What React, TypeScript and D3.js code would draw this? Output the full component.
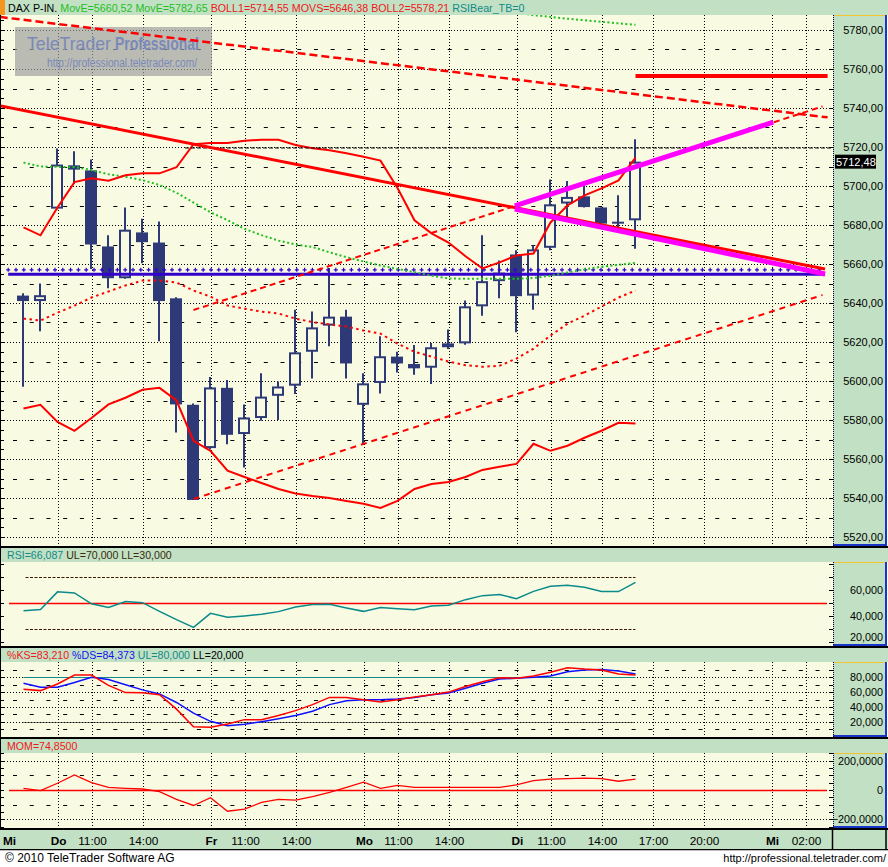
import React from 'react';
import * as d3 from 'd3';

// ---------------- data (hourly candles, Mi 16:00 .. Di 16:00) ----------------
const candleOpen = [5643.8, 5641, 5688.4, 5710.6, 5708, 5669, 5652.7, 5676.2, 5671, 5642.4, 5587.8, 5565.6, 5596.5, 5572.8, 5581, 5592.4, 5597.6, 5615, 5628.4, 5633, 5587.8, 5599, 5612.5, 5608.7, 5606.8, 5617.3, 5619.3, 5638.3, 5651.2, 5664.9, 5643.8, 5668.3, 5691, 5694.7, 5689, 5681.7, 5682.4];
const candleHigh = [5645, 5650, 5719.2, 5717.8, 5713.6, 5674.7, 5689, 5683.2, 5681.8, 5643, 5588.5, 5602, 5600.5, 5588, 5604, 5599.8, 5636.5, 5635.6, 5658, 5636.5, 5604, 5623, 5615, 5618.4, 5619.5, 5626.4, 5641.3, 5674.7, 5661.8, 5667, 5669.5, 5703.3, 5702.6, 5700.9, 5689, 5695.2, 5724];
const candleLow = [5597, 5625.5, 5688, 5701, 5657.5, 5647.6, 5652.5, 5660.4, 5620.4, 5573.6, 5539, 5565, 5567.6, 5555.6, 5579.6, 5580, 5593.3, 5601.3, 5617.8, 5601.3, 5567.3, 5593.6, 5604.4, 5603.2, 5598.5, 5616.4, 5618.6, 5633.5, 5642.4, 5625, 5636.5, 5667, 5684, 5689, 5679.3, 5677.2, 5667.8];
const candleClose = [5641, 5644, 5711, 5708.4, 5670, 5652.7, 5677.6, 5671.2, 5641, 5588, 5539, 5596.7, 5572.4, 5581.3, 5592, 5597.2, 5614.7, 5627.5, 5633, 5609, 5598.8, 5612.7, 5609, 5606.5, 5617.3, 5619.3, 5638.3, 5651.2, 5655.6, 5643.5, 5667.5, 5690.6, 5694.4, 5689.2, 5680.7, 5681.3, 5712.48];

const bollUpper = [5678.8, 5674.7, 5689, 5702, 5704, 5702.7, 5705.5, 5706.5, 5706.5, 5709.6, 5721.4, 5722, 5722, 5723.2, 5723.7, 5723.7, 5721, 5719.4, 5718.3, 5716.8, 5715, 5713, 5699, 5682.4, 5675.7, 5671, 5664, 5657.7, 5660.8, 5664.4, 5665.4, 5681.3, 5690, 5695.2, 5698.8, 5702.9, 5714.55];
const bollMiddle = [5632, 5631, 5635, 5638.7, 5642.8, 5645.9, 5649, 5651.5, 5651.5, 5650.5, 5646.4, 5643.3, 5638.7, 5637.1, 5635.6, 5634.6, 5632, 5630.2, 5629, 5627.9, 5625.9, 5624.3, 5619.2, 5615, 5612.5, 5610, 5608.1, 5607.3, 5607.8, 5611.5, 5616.6, 5623.3, 5629.4, 5633.5, 5638.2, 5642.8, 5646.38];
const bollLower = [5585.9, 5587.8, 5579, 5574.4, 5581, 5588, 5591.4, 5595.5, 5596.5, 5590, 5569.3, 5564.2, 5554, 5550.8, 5547.7, 5544.6, 5542.3, 5541, 5540, 5538.5, 5537, 5534.9, 5538.5, 5544.6, 5547.2, 5548.2, 5550.8, 5554.4, 5556, 5557.5, 5567.8, 5564.2, 5566.8, 5570.9, 5574.5, 5578.6, 5578.21];
const movE1 = [5712, 5710, 5709.8, 5709.8, 5708.2, 5706, 5704.7, 5703, 5700.5, 5696.5, 5691.5, 5686.5, 5682.5, 5678, 5674.8, 5672, 5670, 5668.7, 5666, 5663.5, 5661.3, 5659.2, 5657.5, 5655.8, 5654, 5652.6, 5652.4, 5652.4, 5652.4, 5652.4, 5652.8, 5654, 5655.6, 5657.3, 5658.6, 5659.6, 5660.52];
const movE2: (number | null)[] = [null, null, null, null, null, null, null, null, null, null, null, null, null, null, null, null, null, null, null, null, null, null, null, null, null, null, null, 5792, 5790.5, 5789, 5787.6, 5786.7, 5785.8, 5785, 5784.2, 5783.4, 5782.65];

const rsiValues = [44.3, 45.3, 58.8, 58, 49.6, 46.8, 51.4, 50.5, 43.8, 37.4, 31.5, 42.3, 39.2, 40.3, 41.5, 43.6, 47.2, 49, 49.2, 46.4, 43.8, 46.7, 45.9, 45.1, 48, 48.5, 52.8, 55.9, 56.7, 53.6, 59.2, 63.1, 63.8, 62.3, 59, 59, 66.087];
const ksValues = [63.8, 62, 71, 83, 83, 69, 59.3, 59.2, 56.5, 37, 13.2, 12.5, 16.8, 22.8, 22.5, 28.5, 35, 43.1, 52.8, 52.8, 49.7, 46.7, 49.7, 53.3, 56.4, 60, 67.5, 74.1, 79.5, 78.7, 81.7, 86.7, 92.8, 91.1, 90, 84.5, 83.21];
const dsValues = [71.9, 66.5, 66.5, 73, 80, 77, 70, 63, 57.5, 46, 31.5, 20.5, 14.5, 16.5, 20, 24, 28.5, 34.1, 43.1, 48.4, 49.7, 49.7, 50.7, 52.8, 56.4, 58.7, 65.3, 72, 77.7, 78.7, 80, 81.7, 87.5, 89.7, 90.6, 88.4, 84.373];
const momValues = [11.5, -4.6, 46, 103.4, 50.6, 18.4, 11.5, 6.9, -11.5, -64.4, -105.7, -52.9, -144.8, -131, -85, -64.4, -69, -46, -16, 18.4, 52.9, 11.5, 32.2, 18.4, 18.4, 18.4, 18.4, 18.4, 18.4, 34.5, 64.4, 73.6, 78.2, 80.5, 78.2, 59.8, 74.85];

// drawn studies: [candle index, price]
const resistDashed = [[-1.4, 5786.7], [47.3, 5735.2]];
const channelUpper = [[10, 5636.4], [47, 5740.8]];
const channelLower = [[10, 5539.5], [47, 5644.1]];
const trendDown = [[-1.4, 5741.2], [47.15, 5657.4]];
const wedgeUpper = [[28.9, 5689.8], [44.1, 5732.7]];
const wedgeLower = [[28.9, 5688.2], [47.15, 5654.9]];
const levelHigh = [[36, 5756.4], [47.3, 5756.4]];
const levelBlue = [[-0.9, 5654.7], [47.15, 5654.7]];
const levelBluePlus = 5657;
const levelDashed = [[9.5, 5719.5], [47.6, 5719.5]];

// axes
const timeTickIndex = [-7, 2, 4, 7, 11, 13, 16, 20, 22, 25, 29, 31, 34, 37, 40, 44, 46];
const timeTickLabel = ['Mi', 'Do', '11:00', '14:00', 'Fr', '11:00', '14:00', 'Mo', '11:00', '14:00', 'Di', '11:00', '14:00', '17:00', '20:00', 'Mi', '02:00'];
const timeTickBold = [true, true, false, false, true, false, false, true, false, false, true, false, false, false, false, true, false];
const priceTicks = [5780, 5760, 5740, 5720, 5700, 5680, 5660, 5640, 5620, 5600, 5580, 5560, 5540, 5520];
const rsiTicks = [60, 40, 20];
const ksTicks = [80, 60, 40, 20];
const momTicks = [200, 0, -200];
const lastPrice = 5712.48;

// ---------------- layout ----------------
const W = 888, H = 867;
const PR = 832, AXL = 833, AXR = 886;
const FONT = "'Liberation Sans', Arial, Helvetica, sans-serif";
const BG = '#f8fbe2';
const HDR = '#c2e1c4';
const NAVY = '#2e3a78';
const RED = '#ff0000';
const MAIN = { top: 15, bottom: 546 };
const RSI = { h: 548, top: 562, bottom: 646 };
const KS = { h: 648, top: 662, bottom: 737 };
const MOM = { h: 739, top: 753, bottom: 828 };

export default function App() {
  const x = d3.scaleLinear().domain([0, 46]).range([23.5, 23.5 + 17 * 46]);
  const gx = (i: number) => Math.floor(x(i)) + 1.5;
  const yM = d3.scaleLinear().domain([5520, 5780]).range([537, 30]);
  const yR = d3.scaleLinear().domain([30, 70]).range([629.3, 577.3]);
  const yK = d3.scaleLinear().domain([0, 100]).range([736.5, 662.5]);
  const yO = d3.scaleLinear().domain([-200, 200]).range([819.3, 760.7]);
  const loc = d3.formatLocale({ decimal: ',', thousands: '.', grouping: [3], currency: ['', ''] });
  const f2 = loc.format('.2f'), f3 = loc.format('.3f'), f4 = loc.format('.4f');
  const px = (v: number) => Math.round(v) + 0.5;

  const series = (ys: any, arr: (number | null)[]) =>
    d3.line<number | null>().defined((d) => d != null).x((_, i) => x(i)).y((d) => ys(d as number))(arr) || '';
  const seg = (pts: number[][]) =>
    d3.line<number[]>().x((d) => x(d[0])).y((d) => yM(d[1]))(pts) || '';

  const gridIdx = timeTickIndex.filter((i) => gx(i) > 2 && gx(i) < PR);

  const vGrid = (top: number, bottom: number) =>
    gridIdx.map((i, k) => (
      <line key={'vg' + k} x1={gx(i)} x2={gx(i)} y1={top} y2={bottom} stroke="#000" strokeDasharray="1,2" />
    ));
  const hRow = (y: number, dotted: boolean, key: string) =>
    dotted ? (
      <line key={key} x1={1} x2={829} y1={px(y)} y2={px(y)} stroke="#000" strokeDasharray="1,2" />
    ) : (
      <line key={key} x1={13} x2={829} y1={px(y)} y2={px(y)} stroke="#000" strokeDasharray="4,12.72" />
    );

  const axisBox = (top: number, bottom: number, key: string) => (
    <g key={key}>
      <rect x={AXL} y={top} width={AXR - AXL + 1} height={bottom - top} fill={HDR} />
      <line x1={AXL} x2={AXR + 1} y1={top + 0.5} y2={top + 0.5} stroke="#f2c530" />
      <line x1={AXR} x2={AXR} y1={top} y2={bottom} stroke="#1a34c8" strokeWidth={2} />
      <line x1={AXL} x2={AXR + 1} y1={bottom - 1} y2={bottom - 1} stroke="#1a34c8" strokeWidth={2} />
      <line x1={AXL + 0.5} x2={AXL + 0.5} y1={top} y2={bottom} stroke="#000" strokeDasharray="1,1" />
    </g>
  );
  const ticks = (ys: any, vals: number[], key: string) =>
    vals.map((v, k) => (
      <g key={key + k}>
        <line x1={829} x2={833} y1={px(ys(v))} y2={px(ys(v))} stroke="#000" />
        <line x1={0} x2={4} y1={px(ys(v))} y2={px(ys(v))} stroke="#000" />
      </g>
    ));

  const mainMinor = d3.range(5515, 5790, 5).filter((v) => yM(v) > MAIN.top && yM(v) < MAIN.bottom);
  const mainRows = d3.range(5520, 5781, 10);

  // plus markers along the blue level
  const bx0 = x(levelBlue[0][0]), bx1 = x(levelBlue[1][0]);
  const plusX = d3.range(bx0, bx1, 7.8);

  const header = (y: number, h: number, key: string) => (
    <rect key={key} x={0} y={y} width={W} height={h} fill={HDR} />
  );
  const sep = (y: number, key: string) => <rect key={key} x={0} y={y} width={W} height={2} fill="#000" />;

  return (
    <svg width={W} height={H} viewBox={`0 0 ${W} ${H}`} style={{ display: 'block', position: 'absolute', left: 0, top: 0, background: '#fff' }} fontFamily={FONT}>
      <defs>
        <clipPath id="clipMain"><rect x={1} y={MAIN.top} width={PR - 1} height={MAIN.bottom - MAIN.top} /></clipPath>
        <clipPath id="clipRsi"><rect x={1} y={RSI.top} width={PR - 1} height={RSI.bottom - RSI.top} /></clipPath>
        <clipPath id="clipKs"><rect x={1} y={KS.top} width={PR - 1} height={KS.bottom - KS.top} /></clipPath>
        <clipPath id="clipMom"><rect x={1} y={MOM.top} width={PR - 1} height={MOM.bottom - MOM.top} /></clipPath>
      </defs>

      {/* ---------- main panel ---------- */}
      {header(0, MAIN.top, 'h0')}
      <rect x={0} y={0} width={5} height={MAIN.top} fill="#f7941d" />
      <text x={8} y={12} fontSize={10.7} style={{ whiteSpace: 'pre' }}>
        <tspan fill="#000">DAX P-IN. </tspan>
        <tspan fill="#1fbf1f">MovE={f2(movE1[movE1.length - 1])} </tspan>
        <tspan fill="#1fbf1f">MovE={f2(movE2[movE2.length - 1] as number)} </tspan>
        <tspan fill="#f01818">BOLL1={f2(bollUpper[bollUpper.length - 1])} </tspan>
        <tspan fill="#f01818">MOVS={f2(bollMiddle[bollMiddle.length - 1])} </tspan>
        <tspan fill="#f01818">BOLL2={f2(bollLower[bollLower.length - 1])} </tspan>
        <tspan fill="#108a8a">RSIBear_TB=0</tspan>
      </text>
      <rect x={0} y={MAIN.top} width={PR} height={MAIN.bottom - MAIN.top} fill={BG} />
      <g clipPath="url(#clipMain)">
        {mainRows.map((v, k) => hRow(yM(v), v % 20 === 0, 'mr' + k))}
        {vGrid(MAIN.top, MAIN.bottom)}
        {/* watermark */}
        <rect x={15} y={27} width={197} height={49} fill="#9c9c9c" opacity={0.68} />
        <text x={27} y={50} fontSize={19} fill="#7b89b8" textLength={84} lengthAdjust="spacingAndGlyphs">TeleTrader</text>
        <text x={115} y={50} fontSize={19} fontWeight="bold" fill="#7b89b8" textLength={84} lengthAdjust="spacingAndGlyphs">Professional</text>
        <text x={47} y={67} fontSize={12} fill="#7b89b8" textLength={150} lengthAdjust="spacingAndGlyphs">http://professional.teletrader.com/</text>

        {/* candles */}
        {candleOpen.map((o, i) => {
          const c = candleClose[i];
          const cx = Math.floor(x(i));
          const top = yM(Math.max(o, c));
          const bot = yM(Math.min(o, c));
          const up = c >= o;
          return (
            <g key={'c' + i}>
              <line x1={cx} x2={cx} y1={yM(candleHigh[i])} y2={yM(candleLow[i])} stroke={NAVY} strokeWidth={2} />
              {up ? (
                <rect x={cx - 5} y={top + 1} width={10} height={Math.max(0.5, bot - top - 2)} fill={BG} stroke={NAVY} strokeWidth={2} />
              ) : (
                <rect x={cx - 6} y={top} width={12} height={Math.max(2, bot - top)} fill={NAVY} />
              )}
            </g>
          );
        })}

        {/* horizontal blue level */}
        <path d={seg(levelBlue)} stroke="#3300cc" strokeWidth={3} fill="none" />
        {plusX.map((bx, k) => (
          <path key={'p' + k} d={`M${bx - 2},${yM(levelBluePlus)}h4M${bx},${yM(levelBluePlus) - 2}v4`} stroke="#3300cc" strokeWidth={1.2} />
        ))}

        {/* moving averages and bands */}
        <path d={series(yM, movE2)} stroke="#1fc01f" strokeWidth={2} fill="none" strokeDasharray="2,2.5" />
        <path d={series(yM, movE1)} stroke="#1fc01f" strokeWidth={2} fill="none" strokeDasharray="2,2.5" />
        <path d={series(yM, bollMiddle)} stroke={RED} strokeWidth={2} fill="none" strokeDasharray="2.5,3.5" />
        <path d={series(yM, bollUpper)} stroke={RED} strokeWidth={2} fill="none" />
        <path d={series(yM, bollLower)} stroke={RED} strokeWidth={2} fill="none" />

        {/* trend lines */}
        <path d={seg(levelDashed)} stroke="#000" strokeWidth={1} fill="none" strokeDasharray="4,2" />
        <path d={seg(resistDashed)} stroke={RED} strokeWidth={2.5} fill="none" strokeDasharray="8,4" />
        <path d={seg(channelUpper)} stroke={RED} strokeWidth={2} fill="none" strokeDasharray="6,4" />
        <path d={seg(channelLower)} stroke={RED} strokeWidth={2} fill="none" strokeDasharray="6,5" />
        <path d={seg(trendDown)} stroke={RED} strokeWidth={3} fill="none" />
        <path d={seg(wedgeUpper)} stroke="#ff00ff" strokeWidth={5} fill="none" />
        <path d={seg(wedgeLower)} stroke="#ff00ff" strokeWidth={5} fill="none" />
        <path d={seg(levelHigh)} stroke={RED} strokeWidth={4} fill="none" />
      </g>
      {mainMinor.map((v, k) => (
        <line key={'lm' + k} x1={0} x2={4} y1={px(yM(v))} y2={px(yM(v))} stroke="#000" />
      ))}
      {axisBox(MAIN.top, MAIN.bottom, 'ax0')}
      {mainRows.map((v, k) => (
        <line key={'rt' + k} x1={829} x2={833} y1={px(yM(v))} y2={px(yM(v))} stroke="#000" />
      ))}
      {priceTicks.map((v, k) => (
        <text key={'pl' + k} x={883} y={yM(v) + 4} fontSize={11} textAnchor="end" fill="#000">{f2(v)}</text>
      ))}
      <rect x={835} y={yM(lastPrice) - 7} width={41} height={14} fill="#000" />
      <text x={836} y={yM(lastPrice) + 4} fontSize={11} fill="#fff">{f2(lastPrice)}</text>
      {sep(MAIN.bottom, 's1')}

      {/* ---------- RSI panel ---------- */}
      {header(RSI.h, RSI.top - RSI.h, 'h1')}
      <text x={7} y={558.5} fontSize={10.6} style={{ whiteSpace: 'pre' }}>
        <tspan fill="#108a8a">RSI={f3(rsiValues[rsiValues.length - 1])} </tspan>
        <tspan fill="#3a2a08">UL={f3(70)} LL={f3(30)}</tspan>
      </text>
      <rect x={0} y={RSI.top} width={PR} height={RSI.bottom - RSI.top} fill={BG} />
      <g clipPath="url(#clipRsi)">
        <line x1={9} x2={827} y1={px(yR(50))} y2={px(yR(50))} stroke={RED} strokeWidth={1.5} />
        <line x1={x(0) + 2} x2={x(36)} y1={px(yR(70))} y2={px(yR(70))} stroke="#3a1a00" strokeDasharray="3,1.5" />
        <line x1={x(0) + 2} x2={x(36)} y1={px(yR(30))} y2={px(yR(30))} stroke="#3a1a00" strokeDasharray="3,1.5" />
        <path d={series(yR, rsiValues)} stroke="#0a8a8a" strokeWidth={1.5} fill="none" />
      </g>
      {axisBox(RSI.top, RSI.bottom, 'ax1')}
      {ticks(yR, [20, 30, 40, 50, 60, 70, 80], 'rt')}
      {rsiTicks.map((v, k) => (
        <text key={'rl' + k} x={883} y={Math.min(yR(v) + 4, RSI.bottom - 5)} fontSize={10.8} textAnchor="end">{f3(v)}</text>
      ))}
      {sep(RSI.bottom, 's2')}

      {/* ---------- Stochastic panel ---------- */}
      {header(KS.h, KS.top - KS.h, 'h2')}
      <text x={7} y={658.5} fontSize={10.6} style={{ whiteSpace: 'pre' }}>
        <tspan fill="#f01818">%KS={f3(ksValues[ksValues.length - 1])} </tspan>
        <tspan fill="#1414f0">%DS={f3(dsValues[dsValues.length - 1])} </tspan>
        <tspan fill="#108a8a">UL={f3(80)} </tspan>
        <tspan fill="#000">LL={f3(20)}</tspan>
      </text>
      <rect x={0} y={KS.top} width={PR} height={KS.bottom - KS.top} fill={BG} />
      <g clipPath="url(#clipKs)">
        {d3.range(10, 100, 10).map((v, k) => hRow(yK(v), v % 20 === 0, 'kr' + k))}
        {vGrid(KS.top, KS.bottom)}
        <line x1={x(0)} x2={x(36)} y1={px(yK(80))} y2={px(yK(80))} stroke="#108a8a" strokeWidth={1.2} />
        <line x1={x(0)} x2={x(36)} y1={px(yK(20))} y2={px(yK(20))} stroke="#000" strokeDasharray="1,1" />
        <path d={series(yK, dsValues)} stroke="#1010ff" strokeWidth={1.5} fill="none" />
        <path d={series(yK, ksValues)} stroke={RED} strokeWidth={1.5} fill="none" />
      </g>
      {axisBox(KS.top, KS.bottom, 'ax2')}
      {ticks(yK, d3.range(10, 100, 10), 'kt')}
      {ksTicks.map((v, k) => (
        <text key={'kl' + k} x={883} y={yK(v) + 4} fontSize={10.8} textAnchor="end">{f3(v)}</text>
      ))}
      {sep(KS.bottom, 's3')}

      {/* ---------- Momentum panel ---------- */}
      {header(MOM.h, MOM.top - MOM.h, 'h3')}
      <text x={7} y={750} fontSize={10.6} fill="#f01818">MOM={f4(momValues[momValues.length - 1])}</text>
      <rect x={0} y={MOM.top} width={PR} height={MOM.bottom - MOM.top} fill={BG} />
      <g clipPath="url(#clipMom)">
        {[-200, -100, 100, 200].map((v, k) => hRow(yO(v), Math.abs(v) === 200, 'or' + k))}
        {vGrid(MOM.top, MOM.bottom)}
        <line x1={9} x2={827} y1={px(yO(0))} y2={px(yO(0))} stroke={RED} strokeWidth={1.5} />
        <path d={series(yO, momValues)} stroke={RED} strokeWidth={1.3} fill="none" />
      </g>
      {axisBox(MOM.top, MOM.bottom, 'ax3')}
      {ticks(yO, d3.range(-250, 251, 50), 'ot')}
      {momTicks.map((v, k) => (
        <text key={'ol' + k} x={883} y={yO(v) + 4} fontSize={10.8} textAnchor="end">{v === 0 ? '0' : f4(v)}</text>
      ))}
      {sep(MOM.bottom, 's4')}

      {/* left border */}
      <line x1={0.5} x2={0.5} y1={MAIN.top} y2={MOM.bottom} stroke="#000" />

      {/* ---------- time axis ---------- */}
      <rect x={0} y={830} width={W} height={19} fill={HDR} />
      <line x1={AXL - 0.5} x2={AXL - 0.5} y1={830} y2={849} stroke="#000" strokeWidth={1.5} />
      <line x1={AXR} x2={AXR} y1={830} y2={849} stroke="#000" strokeWidth={1.5} />
      {timeTickIndex.map((i, k) => {
        const inside = gx(i) > 2;
        return (
          <text key={'tl' + k} x={inside ? gx(i) : 3} y={845} fontSize={11.8} textAnchor={inside ? 'middle' : 'start'} fontWeight={timeTickBold[k] ? 'bold' : 'normal'} fill="#000">
            {timeTickLabel[k]}
          </text>
        );
      })}
      <rect x={0} y={849} width={W} height={1.5} fill="#000" />
      <rect x={0} y={850.5} width={W} height={H - 850.5} fill="#fff" />
      <text x={5} y={862} fontSize={12} fill="#000">© 2010 TeleTrader Software AG</text>
      <text x={886} y={862} fontSize={11} textAnchor="end" fill="#000">http://professional.teletrader.com/</text>
    </svg>
  );
}
